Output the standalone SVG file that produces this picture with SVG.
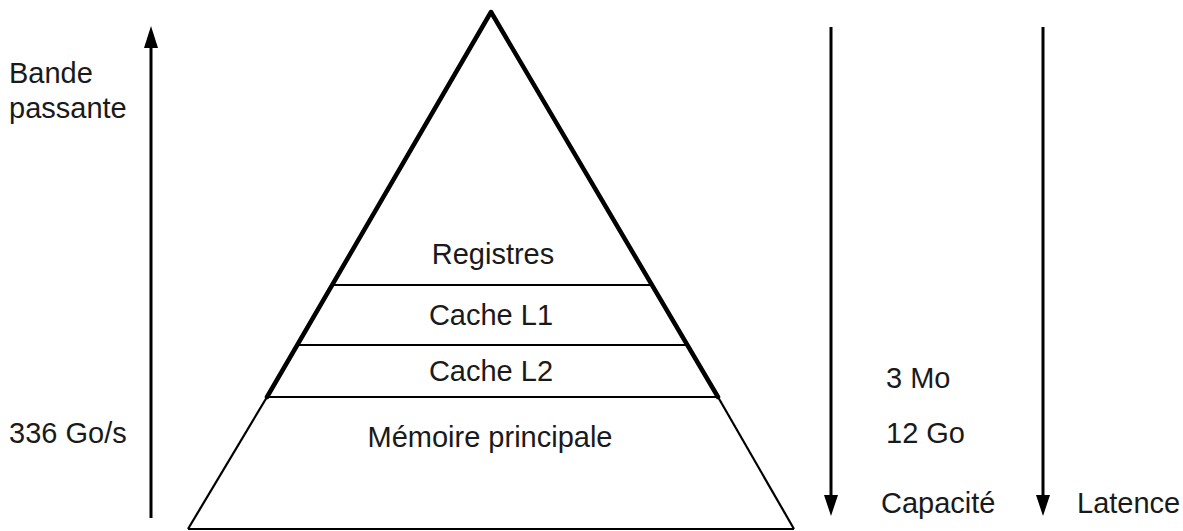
<svg xmlns="http://www.w3.org/2000/svg" width="1183" height="531" viewBox="0 0 1183 531">
<style>
  .t { font-family: "Liberation Sans", Arial, sans-serif; font-size: 29px; fill: #1a1a1a; }
  .c { text-anchor: middle; }
  .thick { stroke: #000; stroke-width: 4.5; fill: none; stroke-linecap: round; stroke-linejoin: round; }
  .thin { stroke: #000; stroke-width: 2.2; fill: none; }
  .arr { stroke: #000; stroke-width: 3; fill: none; }
  .head { fill: #000; }
</style>
<rect width="1183" height="531" fill="#fff"/>
<g id="pyramid">
  <polyline class="thick" points="267,397 491,12 718,397"/>
  <line class="thin" x1="267" y1="397" x2="188" y2="529"/>
  <line class="thin" x1="718" y1="397" x2="794" y2="529"/>
  <line class="thin" x1="188" y1="529" x2="794" y2="529"/>
</g>
<g id="registres">
  <text class="t c" x="493" y="264">Registres</text>
</g>
<g id="cache-l1">
  <line class="thin" x1="333" y1="285" x2="651" y2="285"/>
  <text class="t c" x="491" y="325">Cache L1</text>
</g>
<g id="cache-l2">
  <line class="thin" x1="298" y1="345" x2="686" y2="345"/>
  <text class="t c" x="491" y="381">Cache L2</text>
</g>
<g id="memoire">
  <line class="thin" x1="267" y1="397" x2="718" y2="397"/>
  <text class="t c" x="490" y="447">Mémoire principale</text>
</g>
<g id="connectors">
  <line class="arr" x1="151" y1="518" x2="151" y2="44"/>
  <polygon class="head" points="151,26 144,48 158,48"/>
  <line class="arr" x1="831" y1="27" x2="831" y2="498"/>
  <polygon class="head" points="831,516 824,495 838,495"/>
  <line class="arr" x1="1043" y1="27" x2="1043" y2="498"/>
  <polygon class="head" points="1043,516 1036,495 1050,495"/>
</g>
<g id="labels">
  <text class="t" x="9" y="83">Bande</text>
  <text class="t" x="9" y="118">passante</text>
  <text class="t" x="9" y="443">336 Go/s</text>
  <text class="t" x="886" y="388">3 Mo</text>
  <text class="t" x="886" y="443">12 Go</text>
  <text class="t" x="881" y="513">Capacité</text>
  <text class="t" x="1077" y="513">Latence</text>
</g>
</svg>
